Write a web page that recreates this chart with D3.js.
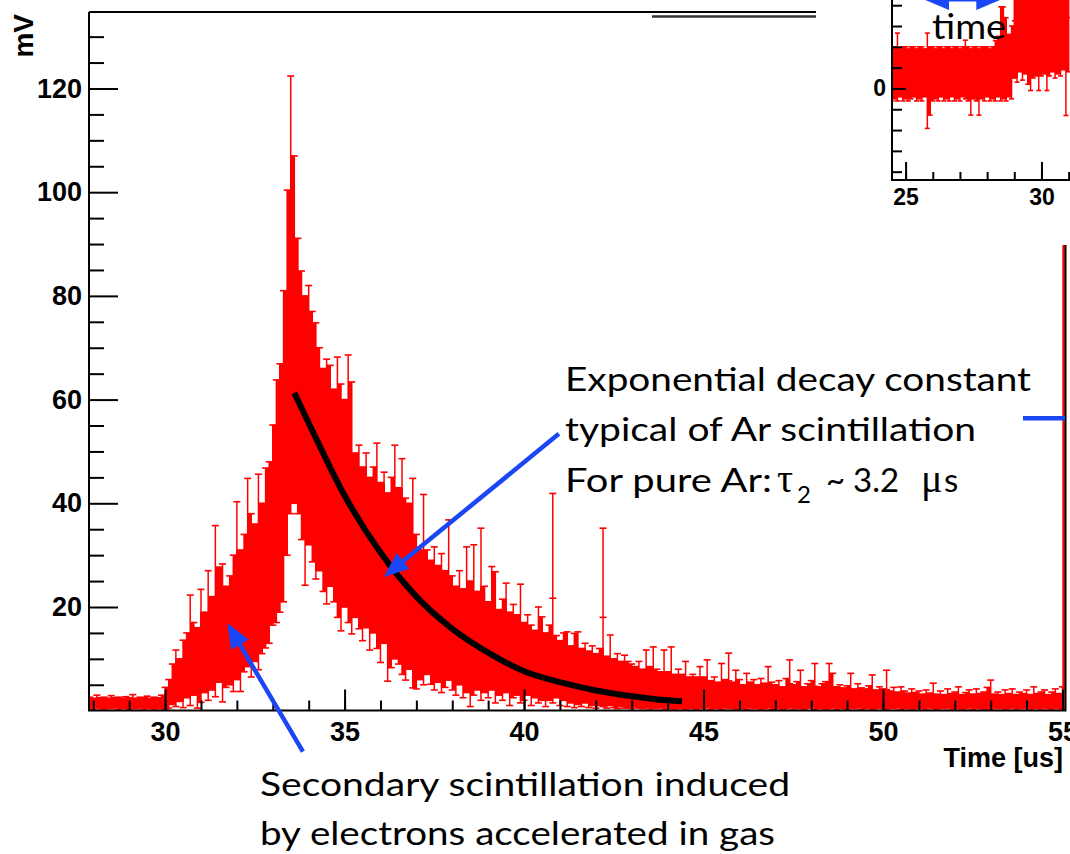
<!DOCTYPE html>
<html>
<head>
<meta charset="utf-8">
<script src="https://cdn.jsdelivr.net/npm/d3@7"></script>
<style>
  html, body { margin: 0; padding: 0; background: #fff; }
  svg { display: block; }
</style>
</head>
<body>
<svg id="chart" width="1070" height="854"></svg>
<script>
// ---- data (mV), one sample every 0.1 us ----
const SAMPLE_STEP = 0.1;

// pre-trigger baseline, 27.9 .. 29.9 us
const BASE_START = 27.9;
const baseHi = [2.6, 2.4, 3.0, 2.5, 2.6, 2.4, 2.9, 2.5, 2.6, 2.4, 2.7, 2.5, 3.1, 2.4, 2.6, 2.5, 2.8, 2.4, 2.6, 2.5, 3.0];
const baseLo = [0.5, 0.3, 0.6, 0.4, 0.3, 0.5, 0.4, 0.6, 0.3, 0.5, 0.4, 0.3, 0.5, 0.4, 0.6, 0.3, 0.5, 0.4, 0.3, 0.5, 0.4];

// secondary scintillation rise + peak, 30.0 .. 37.9 us
const RISE_START = 30.0;
const riseHi = [
  4.5, 6.0, 9.0, 11.7, 10.0, 13.6, 15.0, 22.3, 17.0, 16.0,
  23.4, 19.0, 27.0, 22.0, 35.7, 27.7, 28.3, 24.0, 26.0, 30.0,
  40.3, 31.0, 34.0, 44.8, 38.0, 36.0, 45.6, 40.0, 46.8, 48.0,
  55.1, 63.8, 66.9, 81.0, 100.4, 122.4, 107.0, 91.1, 84.8, 80.0,
  82.0, 77.0, 74.8, 70.0, 66.0, 67.8, 66.6, 62.0, 68.2, 63.0,
  60.0, 68.6, 63.4, 49.7, 51.2, 47.0, 49.7, 45.0, 47.0, 51.6,
  44.0, 46.0, 42.0, 45.0, 51.2, 43.0, 48.6, 41.0, 40.0, 44.8,
  34.0, 31.0, 41.7, 31.0, 29.0, 31.6, 28.0, 30.3, 27.0, 36.8
];
const riseLo = [
  0.3, 0.5, 1.2, 0.8, 1.8, 0.6, 2.5, 1.0, 3.0, 0.5,
  1.6, 3.5, 2.0, 4.0, 2.7, 5.5, 1.7, 4.5, 5.0, 3.7,
  6.0, 3.7, 7.5, 8.5, 6.5, 9.5, 7.9, 11.0, 12.1, 13.0,
  16.5, 17.0, 19.0, 21.0, 30.0, 38.0, 40.0, 38.0, 33.0, 24.2,
  32.0, 28.7, 25.4, 27.0, 23.0, 20.6, 24.0, 21.0, 18.0, 15.4,
  20.0, 17.0, 14.8, 18.0, 15.8, 13.5, 16.0, 11.7, 15.0, 12.0,
  9.3, 13.0, 5.7, 8.3, 10.0, 9.0, 7.0, 5.9, 8.0, 4.4,
  4.2, 6.0, 5.0, 7.0, 5.1, 4.0, 5.5, 3.5, 4.5, 5.9
];

// exponential decay, 38.0 .. 44.9 us
const DECAY_START = 38.0;
const decayHi = [
  26.0, 24.0, 27.0, 23.5, 31.6, 25.0, 32.0, 23.0, 35.2, 24.0,
  21.0, 27.8, 26.8, 19.5, 21.5, 24.6, 19.0, 20.5, 18.5, 24.4,
  17.0, 18.5, 16.5, 15.5, 20.0, 18.1, 15.0, 16.5, 41.9, 14.5,
  13.5, 15.0, 15.2, 12.5, 14.9, 15.2, 12.0, 13.0, 11.5, 12.5,
  11.0, 12.0, 35.2, 10.5, 14.6, 10.0, 11.0, 9.5, 10.7, 9.5,
  9.0, 8.5, 9.5, 8.0, 11.7, 8.5, 12.3, 8.0, 7.5, 11.7,
  7.5, 12.3, 7.0, 8.0, 7.0, 9.5, 6.5, 7.0, 6.5, 8.5
];
const decayLo = [
  4.0, 3.0, 5.0, 2.5, 3.5, 0.8, 3.0, 4.0, 2.0, 3.5,
  2.5, 4.0, 1.5, 3.0, 2.0, 3.5, 1.0, 2.5, 3.0, 1.5,
  2.0, 3.0, 1.0, 2.5, 1.5, 2.0, 0.8, 2.0, 1.5, 2.5,
  1.0, 2.0, 0.8, 1.5, 0.6, 1.2, 0.8, 1.5, 0.6, 1.0,
  0.5, 1.0, 0.8, 0.5, 1.0, 0.6, 0.4, 0.8, 0.5, 0.6,
  0.4, 0.7, 0.5, 0.4, 0.6, 0.3, 0.5, 0.4, 0.6, 0.3,
  0.5, 0.4, 0.3, 0.5, 0.4, 0.3, 0.5, 0.4, 0.3, 0.5
];

// late tail, 45.0 .. 55.0 us
const TAIL_START = 45.0;
const tailHi = [
  6.5, 9.8, 5.8, 6.5, 5.5, 9.1, 6.0, 11.1, 5.5, 7.8,
  6.0, 5.0, 7.2, 5.5, 6.0, 5.0, 6.2, 5.3, 8.5, 5.5,
  5.0, 5.8, 4.6, 6.2, 9.8, 5.0, 5.6, 7.8, 4.6, 5.2,
  5.8, 9.1, 4.6, 5.2, 5.6, 9.1, 7.2, 4.6, 5.0, 4.4,
  4.8, 7.2, 4.2, 5.2, 4.4, 4.2, 4.8, 6.9, 4.0, 4.6,
  4.2, 7.8, 3.8, 4.5, 3.6, 4.6, 3.8, 3.4, 4.2, 3.5,
  3.8, 3.2, 4.0, 3.4, 5.3, 3.2, 3.8, 3.1, 4.2, 3.3,
  3.6, 4.6, 3.1, 3.5, 4.0, 3.2, 4.2, 3.3, 3.6, 4.5,
  5.9, 3.2, 3.6, 3.1, 4.0, 3.3, 4.2, 3.1, 3.6, 3.3,
  4.0, 3.1, 4.6, 3.3, 3.6, 4.0, 3.1, 3.6, 4.2, 3.3,
  4.6
];
const tailLo = [
  0.4, 0.6, 0.3, 0.5, 0.4, 0.3, 0.6, 0.4, 0.5, 0.3,
  0.5, 0.4, 0.3, 0.6, 0.4, 0.5, 0.3, 0.4, 0.6, 0.3,
  0.4, 0.5, 0.3, 0.4, 0.6, 0.3, 0.5, 0.4, 0.3, 0.5,
  0.6, 0.3, 0.4, 0.5, 0.3, 0.4, 0.6, 0.3, 0.5, 0.4,
  0.3, 0.5, 0.4, 0.6, 0.3, 0.4, 0.5, 0.3, 0.4, 0.6,
  0.4, 0.3, 0.5, 0.4, 0.6, 0.3, 0.4, 0.5, 0.3, 0.4,
  0.5, 0.4, 0.3, 0.6, 0.4, 0.3, 0.5, 0.4, 0.6, 0.3,
  0.4, 0.5, 0.3, 0.4, 0.6, 0.3, 0.5, 0.4, 0.3, 0.5,
  0.3, 0.6, 0.4, 0.5, 0.3, 0.4, 0.6, 0.3, 0.5, 0.4,
  0.6, 0.3, 0.4, 0.5, 0.3, 0.6, 0.4, 0.3, 0.5, 0.4,
  0.3
];

// next pulse entering at the right edge: [t, lo, hi]
const edgeTrace = [[55.03, 0.3, 89.8]];

// exponential fit drawn over the decay
const fitT = [33.6, 34.0, 35.0, 36.0, 37.0, 38.0, 39.0, 40.0, 41.0, 42.0, 43.0, 44.0, 44.4];
const fitV = [61.3, 55.5, 41.5, 30.5, 22.0, 15.8, 11.2, 7.6, 5.5, 3.9, 2.8, 2.0, 1.8];

// axes
const yMajor = [20, 40, 60, 80, 100, 120];
const yMinor = [5, 10, 15, 25, 30, 35, 45, 50, 55, 65, 70, 75, 85, 90, 95, 105, 110, 115, 125, 130];
const xMajor = [30, 35, 40, 45, 50, 55];
const xMinor = d3.range(28, 56, 1);

// inset: baseline zoom (mV), 24.5 .. 31.0 us
const INSET_START = 24.5;
const insetHi = [
  2.0, 2.0, 2.66, 1.9, 2.0, 2.0, 1.9, 2.0, 2.0, 1.9,
  2.0, 2.0, 1.9, 2.66, 2.0, 2.0, 1.9, 2.0, 2.0, 1.9,
  2.0, 2.0, 1.9, 2.0, 2.0, 1.9, 2.0, 2.32, 2.0, 1.9,
  2.0, 2.0, 1.9, 2.0, 2.0, 2.0, 1.9, 2.0, 2.3, 2.5,
  3.92, 3.92, 3.4, 2.6, 3.0, 6.0, 6.0, 6.0, 6.0, 6.0,
  6.0, 6.0, 6.0, 6.0, 6.0, 6.0, 6.0, 6.0, 6.0, 6.0,
  6.0, 6.0, 6.0, 6.0, 6.0, 6.0
];
const insetLo = [
  -0.6, -0.5, -0.6, -0.4, -0.6, -0.5, -0.6, -0.5, -0.4, -0.6,
  -0.5, -0.6, -0.4, -1.92, -1.28, -0.6, -0.5, -0.6, -0.4, -0.6,
  -0.5, -0.6, -0.4, -0.6, -0.5, -0.6, -0.4, -0.5, -0.6, -1.28,
  -0.5, -0.6, -1.28, -0.5, -0.6, -0.4, -0.6, -0.5, -0.6, -0.4,
  -0.6, -0.5, -0.6, -0.4, -0.5, 0.5, 0.3, 0.8, 0.4, 0.7,
  0.2, -0.1, 0.5, 0.6, -0.1, 0.6, 0.7, -0.1, 0.6, 0.8,
  0.5, 0.7, 0.6, 0.9, -1.3, 0.8
];
const insetXMajor = [25, 30];
const insetXMinor = d3.range(25, 32, 1);
const insetYMajor = [0];
const insetYMinor = [-4, -3, -2, -1, 1, 2, 3, 4];

// ---- drawing ----
const RED = '#ff0000';
const BLUE = '#1b46f5';
const AXIS_FONT = "'Liberation Sans', Arial, Helvetica, sans-serif";
const NOTE_FONT = "Lato, 'Open Sans', sans-serif";
const GREEK_FONT = "'Liberation Serif', 'DejaVu Serif', serif";

function samples(start, his, los) {
  return his.map((h, i) => ({ t: +(start + i * SAMPLE_STEP).toFixed(2), hi: h, lo: los[i] }));
}

const mainData = [
  ...samples(BASE_START, baseHi, baseLo),
  ...samples(RISE_START, riseHi, riseLo),
  ...samples(DECAY_START, decayHi, decayLo),
  ...samples(TAIL_START, tailHi, tailLo)
];
const insetData = samples(INSET_START, insetHi, insetLo);

const svg = d3.select('#chart');

// neighbouring samples overlap into a solid band; outliers stay thin whiskers with caps
function drawTrace(g, data, xs, ys, capW) {
  const step = Math.abs(xs(data[1].t) - xs(data[0].t));
  const core = data.slice(0, -1).map((d, i) => {
    const nb = data[i + 1];
    return { t: d.t, top: Math.min(d.hi, nb.hi), bot: Math.max(d.lo, nb.lo) };
  }).filter((d) => d.top > d.bot);

  g.append('g')
    .attr('shape-rendering', 'crispEdges')
    .selectAll('rect')
    .data(core)
    .join('rect')
    .attr('x', (d) => xs(d.t) - 0.5)
    .attr('width', step + 1)
    .attr('y', (d) => ys(d.top))
    .attr('height', (d) => ys(d.bot) - ys(d.top))
    .attr('fill', RED);

  g.append('g')
    .selectAll('line')
    .data(data)
    .join('line')
    .attr('x1', (d) => xs(d.t))
    .attr('x2', (d) => xs(d.t))
    .attr('y1', (d) => ys(d.hi))
    .attr('y2', (d) => ys(d.lo))
    .attr('stroke', RED)
    .attr('stroke-width', 1.5);

  const caps = data.flatMap((d) => [d.hi, d.lo, (d.hi + d.lo) / 2].map((v) => ({ t: d.t, v })));
  g.append('g')
    .selectAll('line')
    .data(caps)
    .join('line')
    .attr('x1', (d) => xs(d.t) - capW / 2)
    .attr('x2', (d) => xs(d.t) + capW / 2)
    .attr('y1', (d) => ys(d.v))
    .attr('y2', (d) => ys(d.v))
    .attr('stroke', RED)
    .attr('stroke-width', 1.6);
}

function styleAxis(a, size) {
  a.select('.domain').remove();
  a.selectAll('line').attr('stroke', '#000').attr('stroke-width', 2);
  a.selectAll('text')
    .attr('fill', '#000')
    .attr('font-family', AXIS_FONT)
    .attr('font-weight', 'bold')
    .attr('font-size', size);
}

// main plot
const x = d3.scaleLinear().domain([27.88, 55.07]).range([89, 1065]);
const y = d3.scaleLinear().domain([0, 134.75]).range([710.7, 12]);

svg.append('clipPath').attr('id', 'plotClip')
  .append('rect').attr('x', 89).attr('y', 12).attr('width', 976).attr('height', 699);

const plot = svg.append('g').attr('clip-path', 'url(#plotClip)');
drawTrace(plot, mainData, x, y, 7);

plot.append('g')
  .selectAll('line')
  .data(edgeTrace)
  .join('line')
  .attr('x1', (d) => x(d[0]))
  .attr('x2', (d) => x(d[0]))
  .attr('y1', (d) => y(d[2]))
  .attr('y2', (d) => y(d[1]))
  .attr('stroke', RED)
  .attr('stroke-width', 2.5);

const fitLine = d3.line()
  .x((d) => x(d[0]))
  .y((d) => y(d[1]))
  .curve(d3.curveMonotoneX);
plot.append('path')
  .datum(d3.zip(fitT, fitV))
  .attr('d', fitLine)
  .attr('fill', 'none')
  .attr('stroke', '#000')
  .attr('stroke-width', 6);

// frame (top edge is broken in the original composite)
const frame = svg.append('g').attr('stroke', '#000').attr('stroke-width', 2).attr('fill', 'none');
frame.append('path').attr('d', 'M89,12 V710.5 H1065.5 V245');
frame.append('path').attr('d', 'M89,12 H816');
frame.append('path').attr('d', 'M652,16.5 H816').attr('stroke', '#333').attr('stroke-width', 2.5);

// axes
svg.append('g')
  .attr('transform', 'translate(89,0)')
  .call(d3.axisLeft(y).tickValues(yMinor).tickSizeInner(-15).tickSizeOuter(0).tickFormat(''))
  .call((a) => styleAxis(a, 27));
svg.append('g')
  .attr('transform', 'translate(89,0)')
  .call(d3.axisLeft(y).tickValues(yMajor).tickSizeInner(-29).tickSizeOuter(0).tickPadding(7))
  .call((a) => styleAxis(a, 27));

svg.append('g')
  .attr('transform', 'translate(0,710.5)')
  .call(d3.axisBottom(x).tickValues(xMinor).tickSizeInner(-10).tickSizeOuter(0).tickFormat(''))
  .call((a) => styleAxis(a, 27));
svg.append('g')
  .attr('transform', 'translate(0,710.5)')
  .call(d3.axisBottom(x).tickValues(xMajor).tickSizeInner(-21).tickSizeOuter(0).tickPadding(11).tickFormat(d3.format('d')))
  .call((a) => styleAxis(a, 27));

svg.append('text')
  .attr('x', 1063).attr('y', 767)
  .attr('text-anchor', 'end')
  .attr('font-family', AXIS_FONT).attr('font-weight', 'bold').attr('font-size', 27)
  .text('Time [us]');

svg.append('text')
  .attr('transform', 'translate(33,14) rotate(-90)')
  .attr('text-anchor', 'end')
  .attr('font-family', AXIS_FONT).attr('font-weight', 'bold').attr('font-size', 28)
  .text('mV');

// annotations
const notes = svg.append('g').attr('font-family', NOTE_FONT).attr('font-size', 33).attr('fill', '#000');
notes.append('text').attr('x', 565).attr('y', 391)
  .attr('textLength', 466).attr('lengthAdjust', 'spacingAndGlyphs')
  .text('Exponential decay constant');
notes.append('text').attr('x', 565).attr('y', 441)
  .attr('textLength', 411).attr('lengthAdjust', 'spacingAndGlyphs')
  .text('typical of Ar scintillation');
const l3 = notes.append('text').attr('y', 492);
l3.append('tspan').attr('x', 565).attr('textLength', 207).attr('lengthAdjust', 'spacingAndGlyphs').text('For pure Ar:');
l3.append('tspan').attr('x', 777).attr('font-family', GREEK_FONT).attr('font-size', 40).text('τ');
l3.append('tspan').attr('x', 797).attr('y', 503).attr('font-size', 24).text('2');
l3.append('tspan').attr('x', 826).attr('y', 492).text('~');
l3.append('tspan').attr('x', 853).text('3.2');
l3.append('tspan').attr('x', 921).attr('font-family', GREEK_FONT).attr('font-size', 40).text('μ');
l3.append('tspan').attr('x', 944).text('s');

notes.append('text').attr('x', 260).attr('y', 796)
  .attr('textLength', 530).attr('lengthAdjust', 'spacingAndGlyphs')
  .text('Secondary scintillation induced');
notes.append('text').attr('x', 260).attr('y', 845)
  .attr('textLength', 515).attr('lengthAdjust', 'spacingAndGlyphs')
  .text('by electrons accelerated in gas');

// arrows (endpoints in data coordinates)
const arrows = [
  { from: [33.84, -7.9], to: [31.73, 16.9], head: true },
  { from: [40.97, 53.4], to: [36.09, 25.8], head: true },
  { from: [53.9, 56.4], to: [55.07, 56.4], head: false }
];

function arrowHead(x1, y1, x2, y2, len, half) {
  const a = Math.atan2(y2 - y1, x2 - x1);
  const bx = x2 - len * Math.cos(a), by = y2 - len * Math.sin(a);
  const nx = -Math.sin(a) * half, ny = Math.cos(a) * half;
  return `M${x2},${y2} L${bx + nx},${by + ny} L${bx - nx},${by - ny} Z`;
}

const arrowG = svg.append('g');
arrows.forEach((ar) => {
  const x1 = x(ar.from[0]), y1 = y(ar.from[1]), x2 = x(ar.to[0]), y2 = y(ar.to[1]);
  const a = Math.atan2(y2 - y1, x2 - x1);
  const shaftEnd = ar.head ? 18 : 0;
  arrowG.append('line')
    .attr('x1', x1).attr('y1', y1)
    .attr('x2', x2 - shaftEnd * Math.cos(a)).attr('y2', y2 - shaftEnd * Math.sin(a))
    .attr('stroke', BLUE).attr('stroke-width', 4.5);
  if (ar.head) {
    arrowG.append('path').attr('d', arrowHead(x1, y1, x2, y2, 25, 10)).attr('fill', BLUE);
  }
});

// ---- inset ----
const xi = d3.scaleLinear().domain([24.5, 31.05]).range([892, 1070]);
const yi = d3.scaleLinear().domain([-4.4, 4.25]).range([180, 0]);

const inset = svg.append('g');
inset.append('rect').attr('x', 817).attr('y', 0).attr('width', 253).attr('height', 244).attr('fill', '#fff');

svg.append('clipPath').attr('id', 'insetClip')
  .append('rect').attr('x', 892).attr('y', 0).attr('width', 178).attr('height', 180);
const insetPlot = inset.append('g').attr('clip-path', 'url(#insetClip)');
drawTrace(insetPlot, insetData, xi, yi, 5);

inset.append('path')
  .attr('d', 'M892,0 V180 H1070')
  .attr('fill', 'none').attr('stroke', '#000').attr('stroke-width', 2);

inset.append('g')
  .attr('transform', 'translate(892,0)')
  .call(d3.axisLeft(yi).tickValues(insetYMinor).tickSizeInner(-10).tickSizeOuter(0).tickFormat(''))
  .call((a) => styleAxis(a, 23));
inset.append('g')
  .attr('transform', 'translate(892,0)')
  .call(d3.axisLeft(yi).tickValues(insetYMajor).tickSizeInner(-14).tickSizeOuter(0).tickPadding(6))
  .call((a) => styleAxis(a, 23));
inset.append('g')
  .attr('transform', 'translate(0,180)')
  .call(d3.axisBottom(xi).tickValues(insetXMinor).tickSizeInner(-8).tickSizeOuter(0).tickFormat(''))
  .call((a) => styleAxis(a, 23));
inset.append('g')
  .attr('transform', 'translate(0,180)')
  .call(d3.axisBottom(xi).tickValues(insetXMajor).tickSizeInner(-18).tickSizeOuter(0).tickPadding(9).tickFormat(d3.format('d')))
  .call((a) => styleAxis(a, 23));

inset.append('text')
  .attr('x', 932).attr('y', 39)
  .attr('font-family', NOTE_FONT).attr('font-size', 34)
  .attr('textLength', 74).attr('lengthAdjust', 'spacingAndGlyphs')
  .text('time');

// double-headed "time" arrow, mostly above the crop
const tA = xi(25.64), tB = xi(28.56), tY = -1;
inset.append('line').attr('x1', tA + 20).attr('x2', tB - 20).attr('y1', tY).attr('y2', tY)
  .attr('stroke', BLUE).attr('stroke-width', 5);
inset.append('path').attr('d', arrowHead(tB, tY, tA, tY, 26, 11)).attr('fill', BLUE);
inset.append('path').attr('d', arrowHead(tA, tY, tB, tY, 26, 11)).attr('fill', BLUE);
</script>
</body>
</html>
